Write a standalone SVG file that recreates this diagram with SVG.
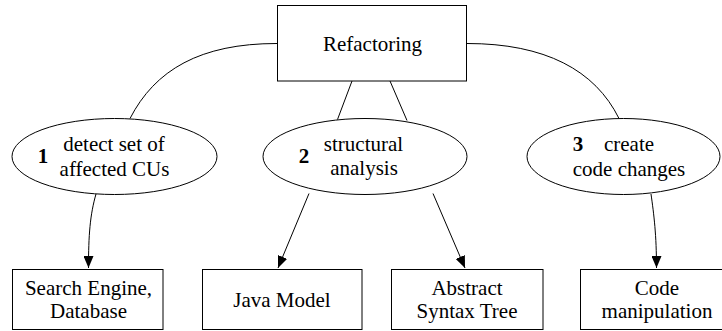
<svg xmlns="http://www.w3.org/2000/svg" width="722" height="331" viewBox="0 0 722 331">
<defs>
<style>
text{font-family:'Liberation Serif','Times New Roman',Times,serif;font-size:21px;fill:#000;text-anchor:middle}
.num{font-weight:bold}
.shape{fill:#fff;stroke:#000;stroke-width:1}
.edge{fill:none;stroke:#000;stroke-width:1}
</style>
<marker id="arr" viewBox="0 0 12 10" refX="12" refY="5" markerWidth="12" markerHeight="10" markerUnits="userSpaceOnUse" orient="auto">
<path d="M0,0 L12,5 L0,10 Z" fill="#000"/>
</marker>
</defs>
<rect width="722" height="331" fill="#fff"/>
<g id="connectors">
<path class="edge" d="M277,43.5 C200,43.5 155,70 130,118.5"/>
<path class="edge" d="M467,43.5 C545,43.5 595,70 619,118.5"/>
<path class="edge" d="M352,81 L337.5,119.5"/>
<path class="edge" d="M390,81 L407,120.5"/>
<path class="edge" d="M96,194 C90,215 88.5,235 88.5,268" marker-end="url(#arr)"/>
<path class="edge" d="M309,193.5 L278,268" marker-end="url(#arr)"/>
<path class="edge" d="M433,193.5 L465,268" marker-end="url(#arr)"/>
<path class="edge" d="M651,194 C654,215 656.5,235 656.5,268" marker-end="url(#arr)"/>
</g>
<g id="refactoring">
<rect class="shape" x="277.5" y="5.5" width="189" height="75.5"/>
<text x="372.5" y="51">Refactoring</text>
</g>
<g id="step1">
<ellipse class="shape" cx="114.5" cy="156.5" rx="102.5" ry="38"/>
<text class="num" x="43" y="163">1</text>
<text x="114" y="151">detect set of</text>
<text x="114.5" y="176">affected CUs</text>
</g>
<g id="step2">
<ellipse class="shape" cx="365" cy="156.5" rx="102" ry="38"/>
<text class="num" x="304" y="163">2</text>
<text x="363.5" y="151">structural</text>
<text x="364" y="175">analysis</text>
</g>
<g id="step3">
<ellipse class="shape" cx="623.5" cy="156.5" rx="96.5" ry="38"/>
<text class="num" x="578" y="151">3</text>
<text x="629" y="151">create</text>
<text x="629" y="176">code changes</text>
</g>
<g id="search">
<rect class="shape" x="12.5" y="269.5" width="150.5" height="60"/>
<text x="88.5" y="295">Search Engine,</text>
<text x="88.5" y="318">Database</text>
</g>
<g id="javamodel">
<rect class="shape" x="202.5" y="269.5" width="159.5" height="60"/>
<text x="282" y="307">Java Model</text>
</g>
<g id="ast">
<rect class="shape" x="391.5" y="269.5" width="151.5" height="60"/>
<text x="467" y="295">Abstract</text>
<text x="467" y="318">Syntax Tree</text>
</g>
<g id="code">
<rect class="shape" x="580.5" y="269.5" width="152" height="60"/>
<text x="657" y="295">Code</text>
<text x="657" y="318">manipulation</text>
</g>
</svg>
